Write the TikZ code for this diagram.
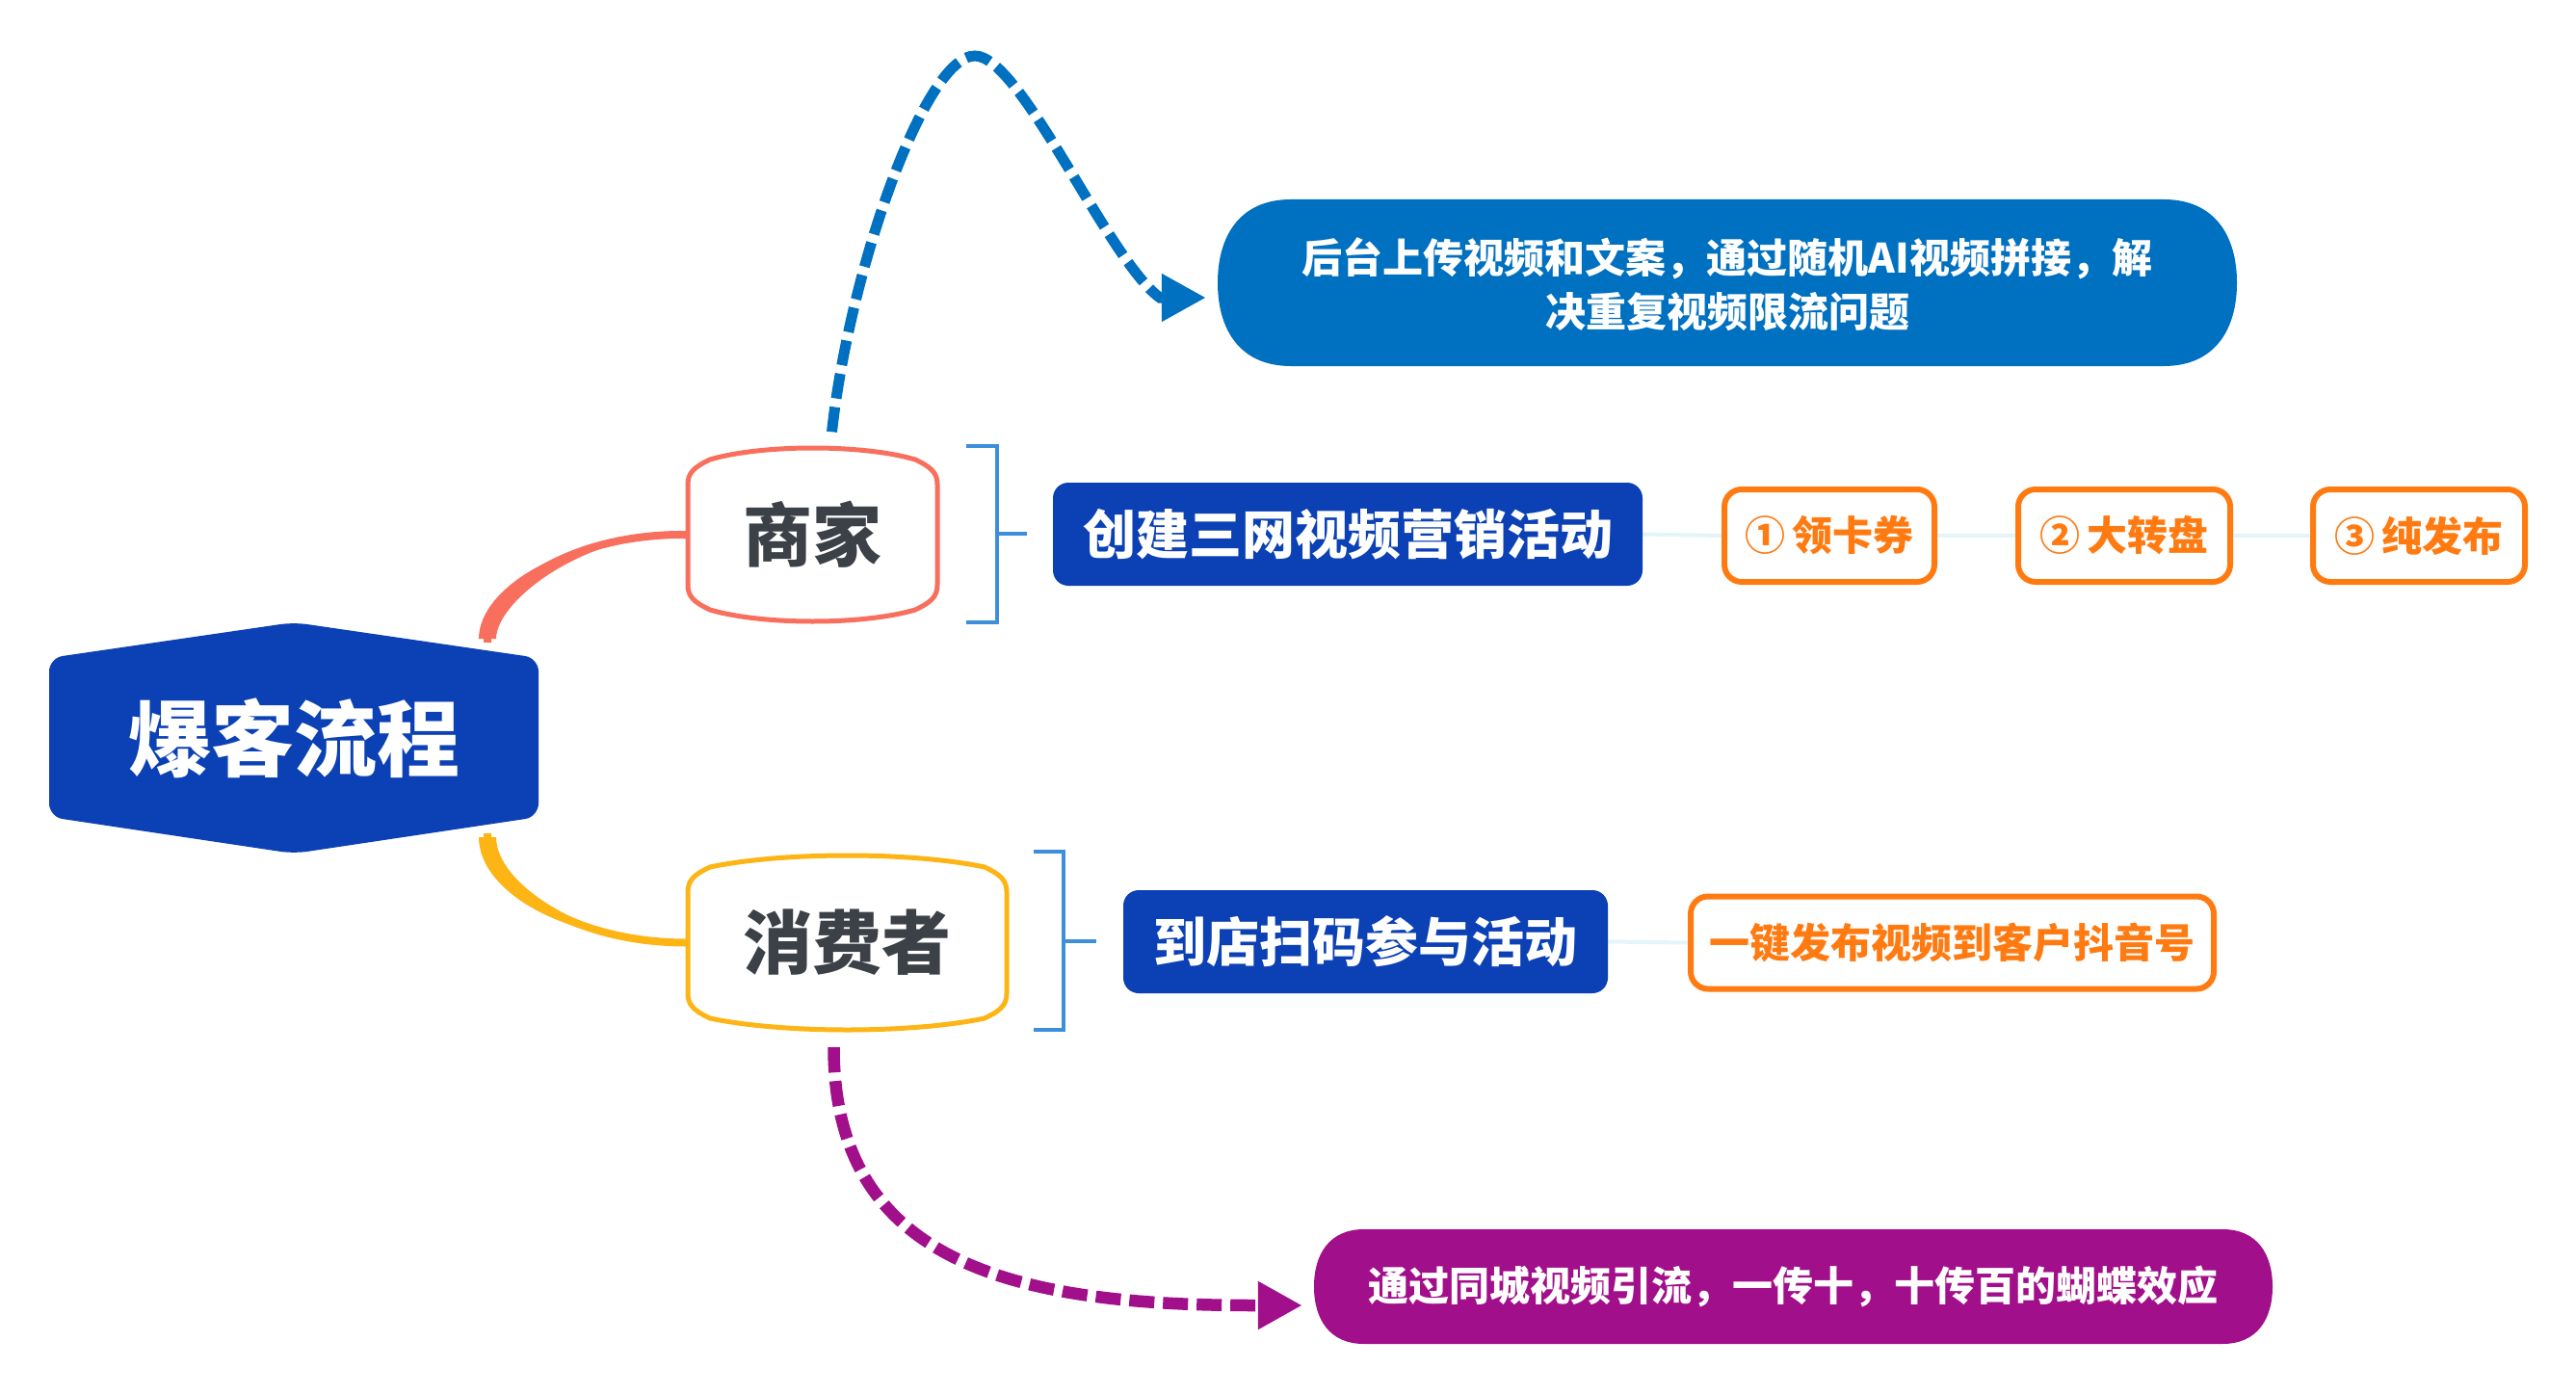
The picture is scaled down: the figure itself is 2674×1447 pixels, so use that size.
\documentclass[tikz,border=0pt]{standalone}
\usepackage{fontspec}
\setmainfont{Noto Sans CJK SC}
\usetikzlibrary{arrows.meta}
\pgfdeclarelayer{background}
\pgfsetlayers{background,main}
\definecolor{hexblue}{HTML}{0B41B5}
\definecolor{callblue}{HTML}{0070C0}
\definecolor{salmon}{HTML}{F96F5D}
\definecolor{gold}{HTML}{FDB515}
\definecolor{brkblue}{HTML}{3D8FDB}
\definecolor{orangeb}{HTML}{FF7B12}
\definecolor{purp}{HTML}{A20F8A}
\definecolor{slate}{HTML}{3B4147}
\definecolor{faintc}{HTML}{E3F5F9}
\newcommand{\bulgeshape}[5]{%
\draw[#1, line width=5pt, fill=white] (#2,{#3+38}) .. controls (#2,{#3+26}) and ({#2+6},{#3+20}) .. ({#2+23},{#3+12}) .. controls ({#2+0.3*(#4-#2)},{#3-4}) and ({#4-0.3*(#4-#2)},{#3-4}) .. ({#4-23},{#3+12}) .. controls ({#4-6},{#3+20}) and (#4,{#3+26}) .. (#4,{#3+38}) -- (#4,{#5-38}) .. controls (#4,{#5-26}) and ({#4-6},{#5-20}) .. ({#4-23},{#5-12}) .. controls ({#4-0.3*(#4-#2)},{#5+4}) and ({#2+0.3*(#4-#2)},{#5+4}) .. ({#2+23},{#5-12}) .. controls ({#2+6},{#5-20}) and (#2,{#5-26}) .. (#2,{#5-38}) -- cycle;}
\newcommand{\calloutshape}[6]{%
\fill[#1] ({#2+#6},#3) -- ({#4-#6},#3) .. controls ({#4-0.3*#6},#3) and (#4,{#3+0.22*(#5-#3)}) .. (#4,{0.5*(#3+#5)}) .. controls (#4,{#5-0.22*(#5-#3)}) and ({#4-0.3*#6},#5) .. ({#4-#6},#5) -- ({#2+#6},#5) .. controls ({#2+0.3*#6},#5) and (#2,{#5-0.22*(#5-#3)}) .. (#2,{0.5*(#3+#5)}) .. controls (#2,{#3+0.22*(#5-#3)}) and ({#2+0.3*#6},#3) .. ({#2+#6},#3) -- cycle;}
\tikzset{
 hextext/.style={text=white, font=\fontsize{86}{90}\selectfont\bfseries, inner sep=0pt},
 roletext/.style={text=slate, font=\fontsize{72}{76}\selectfont\bfseries, inner sep=0pt, minimum height=185pt},
 bluebox/.style={fill=hexblue, rounded corners=16pt, text=white, font=\fontsize{55}{60}\selectfont\bfseries, inner sep=0pt, minimum height=107pt},
 orangebox/.style={draw=orangeb, line width=6pt, fill=white, rounded corners=18pt, text=orangeb, font=\fontsize{42}{46}\selectfont\bfseries, inner sep=0pt, minimum height=96pt},
 calltext/.style={text=white, font=\fontsize{42}{56}\selectfont\bfseries, align=center, inner sep=0pt},
 brk/.style={brkblue, line width=4.5pt},
 branch/.style={line width=8pt},
 faintline/.style={faintc, line width=4pt},
 dasharrow/.style={dash pattern=on 26pt off 9pt, -{Triangle[length=46pt,width=47pt]}},
}
\begin{document}
\begin{tikzpicture}[x=1pt,y=-1pt]
\useasboundingbox (0,0) rectangle (2674,1447);
% central hexagon
\fill[hexblue, rounded corners=14pt] (51,683) -- (305,646) -- (559,683) -- (559,848) -- (305,886) -- (51,848) -- cycle;
\node[hextext] (hx) at (305,766) {爆客流程};
\coordinate (hxa) at (506,677);
\coordinate (hxb) at (506,855);
% role shapes
\bulgeshape{salmon}{714}{465}{973}{645}
\bulgeshape{gold}{714}{888}{1045}{1069}
\node[roletext, minimum width=263pt] (sj) at (843.5,555) {商家};
\node[roletext, minimum width=335pt] (xf) at (879.5,978.5) {消费者};
% brackets
\draw[brk] (1003,463) -- (1035,463) -- (1035,646) -- (1003,646);
\draw[brk] (1035,554) -- (1066,554);
\draw[brk] (1073,884) -- (1104,884) -- (1104,1069) -- (1073,1069);
\draw[brk] (1104,977) -- (1138,977);
% blue boxes
\node[bluebox, minimum width=612pt] (cj) at (1399,554.5) {创建三网视频营销活动};
\node[bluebox, minimum width=503pt] (dd) at (1417.5,977.5) {到店扫码参与活动};
% orange boxes
\node[orangebox, minimum width=218pt] (o1) at (1899,556) {①\,领卡券};
\node[orangebox, minimum width=220pt] (o2) at (2205,556) {②\,大转盘};
\node[orangebox, minimum width=220pt] (o3) at (2511,556) {③\,纯发布};
\node[orangebox, minimum width=543pt] (yj) at (2026.5,978.5) {一键发布视频到客户抖音号};
% callouts
\calloutshape{callblue}{1264}{207}{2322}{380}{76}
\node[calltext, minimum width=1058pt, minimum height=173pt] (cb) at (1793,295) {后台上传视频和文案，通过随机AI视频拼接，解\\决重复视频限流问题};
\calloutshape{purp}{1364}{1276}{2359}{1395}{52}
\node[calltext, minimum width=995pt, minimum height=119pt] (cp) at (1861.5,1335.5) {通过同城视频引流，一传十，十传百的蝴蝶效应};
% connectors (branches, thicker near the centre)
\begin{pgfonlayer}{background}
\draw[branch, salmon] ([yshift=10pt]hxa) .. controls (506,612) and (592,554) .. (sj.west);
\fill[salmon] ([xshift=-9pt,yshift=14pt]hxa) .. controls (497,610) and (590,551) .. ([yshift=-3pt]sj.west) -- ([yshift=3pt]sj.west) .. controls (598,557) and (515,626) .. ([xshift=9pt,yshift=14pt]hxa) -- cycle;
\draw[branch, gold] ([yshift=-10pt]hxb) .. controls (506,922) and (598,978.5) .. (xf.west);
\fill[gold] ([xshift=-9pt,yshift=-14pt]hxb) .. controls (497,927) and (592,981.5) .. ([yshift=3pt]xf.west) -- ([yshift=-3pt]xf.west) .. controls (604,975.5) and (515,917) .. ([xshift=9pt,yshift=-14pt]hxb) -- cycle;
\draw[faintline] (cj.east) -- (o1.west);
\draw[faintline] (o1.east) -- (o2.west);
\draw[faintline] (o2.east) -- (o3.west);
\draw[faintline] (dd.east) -- (yj.west);
\end{pgfonlayer}
\draw[dasharrow, callblue, line width=11pt] ([shift={(20,-14)}]sj.north) .. controls (882,280) and (960,58) .. (1012,58) .. controls (1060,58) and (1150,270) .. (1204,309) -- ([shift={(-12,14)}]cb.west);
\draw[dasharrow, purp, line width=12.5pt] ([shift={(-14,16)}]xf.south) .. controls (865.5,1310) and (1050,1355) .. (1302,1355) -- ([shift={(-12,19.5)}]cp.west);
\end{tikzpicture}
\end{document}
